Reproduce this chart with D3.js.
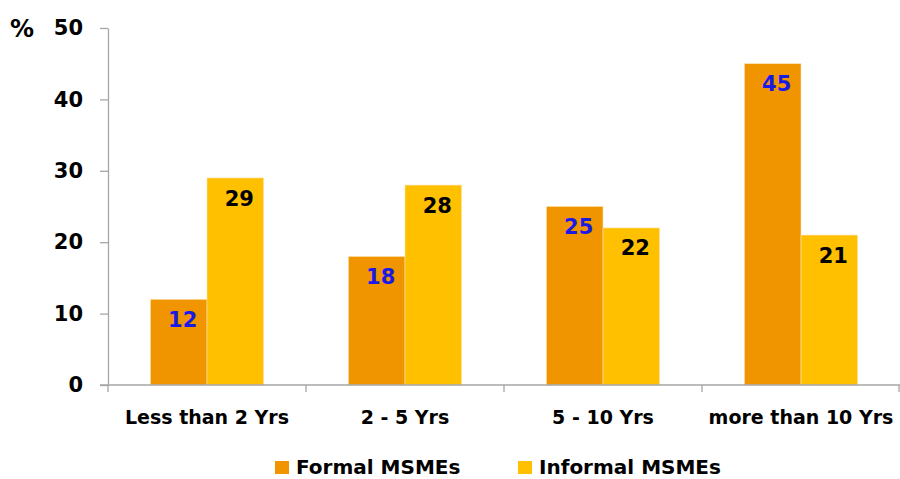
<!DOCTYPE html>
<html>
<head>
<meta charset="utf-8">
<script src="https://cdn.jsdelivr.net/npm/d3@7"></script>
<style>
  html, body { margin: 0; padding: 0; background: #fff; }
  svg text { font-family: "DejaVu Sans", sans-serif; font-weight: bold; }
</style>
</head>
<body>
<svg id="chart" width="900" height="479"></svg>
<script>
// Firm age groups and the share (%) of MSMEs in each
const categories = ["Less than 2 Yrs", "2 - 5 Yrs", "5 - 10 Yrs", "more than 10 Yrs"];
const seriesNames = ["Formal MSMEs", "Informal MSMEs"];
const formal = [12, 18, 25, 45];
const informal = [29, 28, 22, 21];
const yTicks = [0, 10, 20, 30, 40, 50];

const colors = ["#F09400", "#FFC000"];
const labelColors = ["#1A1AE6", "#000000"];

const svg = d3.select("#chart");
const margin = { left: 108, right: 0, top: 28 };
const W = 900;
const y0 = 385;

const x = d3.scaleBand().domain(categories).range([margin.left, W]).padding(0);
const xs = d3.scaleBand().domain(seriesNames).range([0, x.bandwidth()])
  .paddingInner(0).paddingOuter(0.75);
const y = d3.scaleLinear().domain([0, 50]).range([y0, margin.top]);

const rows = categories.map((c, i) => ({ cat: c, vals: [formal[i], informal[i]] }));

// bars with their value labels
const g = svg.append("g");
rows.forEach(r => {
  r.vals.forEach((v, j) => {
    const bx = x(r.cat) + xs(seriesNames[j]);
    g.append("rect")
      .attr("x", bx)
      .attr("y", y(v))
      .attr("width", xs.bandwidth())
      .attr("height", y(0) - y(v))
      .attr("fill", colors[j])
      .attr("stroke", "#FCE3B0")
      .attr("stroke-width", 0.6);
    g.append("text")
      .attr("x", bx + xs.bandwidth() / 2 + 4)
      .attr("y", y(v) + 20)
      .attr("dy", "0.36em")
      .attr("text-anchor", "middle")
      .attr("font-size", 21)
      .attr("fill", labelColors[j])
      .text(v);
  });
});

// y axis
const yAxis = d3.axisLeft(y).tickValues(yTicks).tickSize(8).tickPadding(17).tickSizeOuter(0);
const ya = svg.append("g").attr("transform", `translate(${margin.left},0)`).call(yAxis);
ya.select(".domain").attr("stroke", "#A6A6A6").attr("stroke-width", 1.3);
ya.selectAll(".tick line").attr("stroke", "#A6A6A6").attr("stroke-width", 1.3);
ya.selectAll(".tick text").attr("font-size", 21).attr("fill", "#000")
  .style("font-family", "'DejaVu Sans', sans-serif").style("font-weight", "bold");

// x axis: baseline plus boundary ticks between groups
svg.append("line")
  .attr("x1", margin.left - 8).attr("x2", W)
  .attr("y1", y0).attr("y2", y0)
  .attr("stroke", "#A6A6A6").attr("stroke-width", 1.3);
const bounds = categories.map(c => x(c)).concat([W - 1]);
svg.selectAll(".bt").data(bounds).enter().append("line")
  .attr("x1", d => d).attr("x2", d => d)
  .attr("y1", y0).attr("y2", y0 + 7)
  .attr("stroke", "#A6A6A6").attr("stroke-width", 1.3);
svg.selectAll(".xl").data(categories).enter().append("text")
  .attr("x", d => x(d) + x.bandwidth() / 2)
  .attr("y", 424)
  .attr("text-anchor", "middle")
  .attr("font-size", 19)
  .attr("fill", "#000")
  .text(d => d);

// unit label
svg.append("text").attr("x", 10).attr("y", 37).attr("font-size", 24).attr("fill", "#000").text("%");

// legend
const legendX = [275, 518];
seriesNames.forEach((s, j) => {
  svg.append("rect").attr("x", legendX[j]).attr("y", 461).attr("width", 14).attr("height", 13).attr("fill", colors[j]);
  svg.append("text").attr("x", legendX[j] + 21).attr("y", 474).attr("font-size", 20).attr("fill", "#000").text(s);
});
</script>
</body>
</html>
